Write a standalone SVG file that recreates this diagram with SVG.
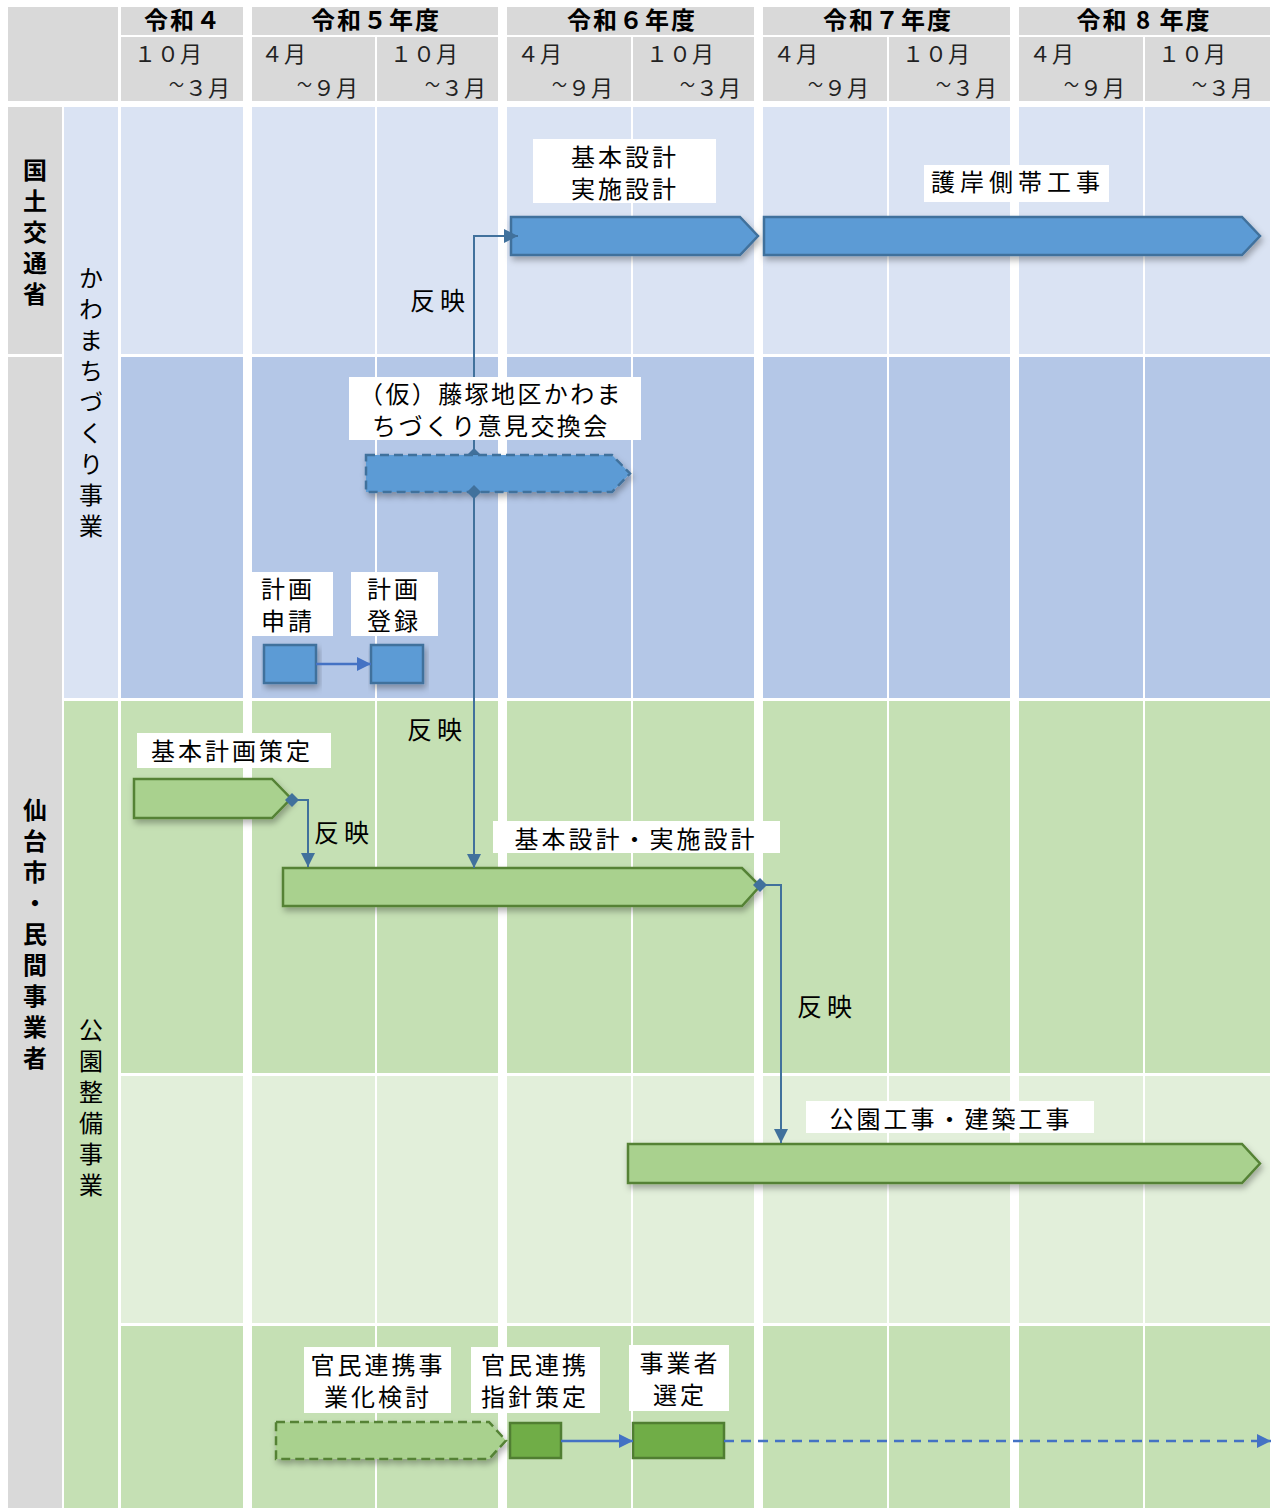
<svg xmlns="http://www.w3.org/2000/svg" width="1272" height="1508" viewBox="0 0 1272 1508">
<defs>
<style>
.t{font-family:"Noto Sans CJK JP","Noto Sans CJK SC",sans-serif;font-size:24px;letter-spacing:3px;fill:#000}
.v{font-family:"Noto Sans CJK JP","Noto Sans CJK SC",sans-serif;font-size:24px;letter-spacing:7px;writing-mode:vertical-rl;fill:#000}
.hb{font-family:"Noto Sans CJK JP","Noto Sans CJK SC",sans-serif;font-size:24px;font-weight:bold;letter-spacing:2px;fill:#000}
.vb{font-family:"Noto Sans CJK JP","Noto Sans CJK SC",sans-serif;font-size:24px;font-weight:bold;letter-spacing:7px;writing-mode:vertical-rl;fill:#000}
.m{font-family:"Noto Sans CJK JP","Noto Sans CJK SC",sans-serif;font-size:22px;letter-spacing:1px;fill:#222}
.r{font-family:"Noto Sans CJK JP","Noto Sans CJK SC",sans-serif;font-size:25px;letter-spacing:5px;fill:#000}
.lab{fill:#fff}
.bb{fill:#5B9BD5;stroke:#41719C;stroke-width:2.5}
.gb{fill:#A9D18E;stroke:#548235;stroke-width:2.5}
.dg{fill:#70AD47;stroke:#507E32;stroke-width:2.5}
.dash{stroke-dasharray:9 5}
.cn{fill:none;stroke:#41719C;stroke-width:2}
.cb{fill:none;stroke:#4472C4;stroke-width:2.5}
</style>
<marker id="ah" markerUnits="userSpaceOnUse" markerWidth="16" markerHeight="16" refX="14" refY="7" orient="auto"><path d="M0,0 L14,7 L0,14 Z" fill="#41719C"/></marker>
<marker id="ah2" markerUnits="userSpaceOnUse" markerWidth="16" markerHeight="16" refX="14" refY="7" orient="auto"><path d="M0,0 L14,7 L0,14 Z" fill="#4472C4"/></marker>
<marker id="dm" markerUnits="userSpaceOnUse" markerWidth="14" markerHeight="14" refX="7" refY="7" orient="auto"><path d="M0,7 L7,0 L14,7 L7,14 Z" fill="#41719C"/></marker>
<filter id="sh" x="-5%" y="-30%" width="115%" height="180%"><feDropShadow dx="2" dy="4" stdDeviation="3" flood-color="#000" flood-opacity="0.3"/></filter>
</defs>
<rect width="1272" height="1508" fill="#fff"/>
<g id="grid">
<rect x="8" y="7" width="110" height="94" fill="#D9D9D9"/>
<rect x="121" y="7" width="122" height="28" fill="#D9D9D9"/>
<rect x="252" y="7" width="246" height="28" fill="#D9D9D9"/>
<rect x="507" y="7" width="247" height="28" fill="#D9D9D9"/>
<rect x="763" y="7" width="247" height="28" fill="#D9D9D9"/>
<rect x="1019" y="7" width="251" height="28" fill="#D9D9D9"/>
<rect x="121" y="37" width="1149" height="64" fill="#D9D9D9"/>
<rect x="8" y="107" width="54" height="247" fill="#D9D9D9"/>
<rect x="8" y="357" width="54" height="1151" fill="#D9D9D9"/>
<rect x="64" y="107" width="54" height="591" fill="#DAE3F3"/>
<rect x="64" y="701" width="54" height="807" fill="#C5E0B4"/>
<rect x="121" y="107" width="1149" height="247" fill="#DAE3F3"/>
<rect x="121" y="357" width="1149" height="341" fill="#B4C7E7"/>
<rect x="121" y="701" width="1149" height="372" fill="#C5E0B4"/>
<rect x="121" y="1076" width="1149" height="247" fill="#E2EFDA"/>
<rect x="121" y="1326" width="1149" height="182" fill="#C5E0B4"/>
<g fill="#fff">
<rect x="243" y="37" width="9" height="1471"/>
<rect x="498" y="37" width="9" height="1471"/>
<rect x="754" y="37" width="9" height="1471"/>
<rect x="1010" y="37" width="9" height="1471"/>
<rect x="375" y="37" width="2" height="1471"/>
<rect x="631" y="37" width="2" height="1471"/>
<rect x="887" y="37" width="2" height="1471"/>
<rect x="1143" y="37" width="2" height="1471"/>
</g>
</g>
<g id="header">
<text class="hb" x="183" y="29" text-anchor="middle">令和４</text>
<text class="hb" x="376" y="29" text-anchor="middle">令和５年度</text>
<text class="hb" x="632" y="29" text-anchor="middle">令和６年度</text>
<text class="hb" x="888" y="29" text-anchor="middle">令和７年度</text>
<text class="hb" x="1144" y="29" text-anchor="middle">令和 8 年度</text>
<text class="m" x="134" y="62">１０月</text>
<text class="m" x="231" y="96" text-anchor="end"><tspan font-size="15" dy="-6">～</tspan><tspan dy="6">３月</tspan></text>
<text class="m" x="261" y="62">４月</text>
<text class="m" x="359" y="96" text-anchor="end"><tspan font-size="15" dy="-6">～</tspan><tspan dy="6">９月</tspan></text>
<text class="m" x="390" y="62">１０月</text>
<text class="m" x="487" y="96" text-anchor="end"><tspan font-size="15" dy="-6">～</tspan><tspan dy="6">３月</tspan></text>
<text class="m" x="517" y="62">４月</text>
<text class="m" x="614" y="96" text-anchor="end"><tspan font-size="15" dy="-6">～</tspan><tspan dy="6">９月</tspan></text>
<text class="m" x="646" y="62">１０月</text>
<text class="m" x="742" y="96" text-anchor="end"><tspan font-size="15" dy="-6">～</tspan><tspan dy="6">３月</tspan></text>
<text class="m" x="773" y="62">４月</text>
<text class="m" x="870" y="96" text-anchor="end"><tspan font-size="15" dy="-6">～</tspan><tspan dy="6">９月</tspan></text>
<text class="m" x="902" y="62">１０月</text>
<text class="m" x="998" y="96" text-anchor="end"><tspan font-size="15" dy="-6">～</tspan><tspan dy="6">３月</tspan></text>
<text class="m" x="1029" y="62">４月</text>
<text class="m" x="1126" y="96" text-anchor="end"><tspan font-size="15" dy="-6">～</tspan><tspan dy="6">９月</tspan></text>
<text class="m" x="1158" y="62">１０月</text>
<text class="m" x="1254" y="96" text-anchor="end"><tspan font-size="15" dy="-6">～</tspan><tspan dy="6">３月</tspan></text>
</g>
<g id="row-labels">
<text class="vb" x="35" y="158">国土交通省</text>
<text class="vb" x="35" y="798">仙台市・民間事業者</text>
<text class="v" x="91" y="266">かわまちづくり事業</text>
<text class="v" x="91" y="1018">公園整備事業</text>
</g>
<g id="kaigan-sekkei-bar">
<path class="bb" filter="url(#sh)" d="M511,217 H740 L758,236 L740,255 H511 Z"/>
</g>
<g id="gogan-kouji-bar">
<path class="bb" filter="url(#sh)" d="M764,217 H1242 L1260,236 L1242,255 H764 Z"/>
</g>
<g id="connector-hanei-1">
<path class="cn" d="M474,455 V236 H518" marker-start="url(#dm)" marker-end="url(#ah)"/>
<text class="r" x="410" y="310">反映</text>
</g>
<g id="ikenkoukankai-bar">
<path class="bb dash" filter="url(#sh)" d="M366,455 H612 L630,473.5 L612,492 H366 Z"/>
</g>
<g id="keikaku-shinsei">
<rect class="bb" filter="url(#sh)" x="264" y="645" width="52" height="38"/>
</g>
<g id="keikaku-touroku">
<rect class="bb" filter="url(#sh)" x="371" y="645" width="52" height="38"/>
</g>
<g id="kihonkeikaku-bar">
<path class="gb" filter="url(#sh)" d="M134,779 H272 L291,798.5 L272,818 H134 Z"/>
</g>
<g id="kouen-sekkei-bar">
<path class="gb" filter="url(#sh)" d="M283,868 H742 L760,886 L742,906 H283 Z"/>
</g>
<g id="kouen-kouji-bar">
<path class="gb" filter="url(#sh)" d="M628,1144 H1242 L1260,1163.5 L1242,1183 H628 Z"/>
</g>
<g id="kanmin-kentou-bar">
<path class="gb dash" filter="url(#sh)" d="M276,1422 H489 L506,1440.5 L489,1459 H276 Z"/>
</g>
<g id="kanmin-shishin-box">
<rect class="dg" x="510" y="1423" width="51" height="35"/>
</g>
<g id="jigyousha-sentei-box">
<rect class="dg" x="633" y="1423" width="91" height="35"/>
</g>
<g id="connectors">
<path class="cn" d="M474,492 V868" marker-start="url(#dm)" marker-end="url(#ah)"/>
<path class="cn" d="M292,800 H308 V867" marker-start="url(#dm)" marker-end="url(#ah)"/>
<path class="cn" d="M760,885 H781 V1143" marker-start="url(#dm)" marker-end="url(#ah)"/>
<path class="cb" d="M316,664 H371" marker-end="url(#ah2)"/>
<path class="cb" d="M561,1441 H633" marker-end="url(#ah2)"/>
<path class="cb" d="M724,1441 H1271" stroke-dasharray="10 7" marker-end="url(#ah2)"/>
<text class="r" x="407" y="739">反映</text>
<text class="r" x="314" y="842">反映</text>
<text class="r" x="797" y="1016">反映</text>
</g>
<g id="label-kaigan-sekkei">
<rect class="lab" x="533" y="139" width="183" height="64"/>
<text class="t" x="625" y="166" text-anchor="middle">基本設計</text>
<text class="t" x="625" y="198" text-anchor="middle">実施設計</text>
</g>
<g id="label-gogan-kouji">
<rect class="lab" x="924" y="165" width="185" height="37"/>
<text class="t" x="1018" y="191" text-anchor="middle" style="letter-spacing:5px">護岸側帯工事</text>
</g>
<g id="label-ikenkoukankai">
<rect class="lab" x="349" y="377" width="292" height="63"/>
<text class="t" x="359" y="403" style="letter-spacing:2.4px">（仮）藤塚地区かわま</text>
<text class="t" x="372" y="435" style="letter-spacing:2.4px">ちづくり意見交換会</text>
</g>
<g id="label-keikaku-shinsei">
<rect class="lab" x="252" y="572" width="81" height="64"/>
<text class="t" x="261" y="598">計画</text>
<text class="t" x="261" y="630">申請</text>
</g>
<g id="label-keikaku-touroku">
<rect class="lab" x="351" y="572" width="87" height="64"/>
<text class="t" x="367" y="598">計画</text>
<text class="t" x="367" y="630">登録</text>
</g>
<g id="label-kihonkeikaku">
<rect class="lab" x="137" y="733" width="194" height="35"/>
<text class="t" x="151" y="760">基本計画策定</text>
</g>
<g id="label-kouen-sekkei">
<rect class="lab" x="493" y="821" width="287" height="32"/>
<text class="t" x="636" y="848" text-anchor="middle">基本設計・実施設計</text>
</g>
<g id="label-kouen-kouji">
<rect class="lab" x="806" y="1101" width="288" height="32"/>
<text class="t" x="951" y="1128" text-anchor="middle">公園工事・建築工事</text>
</g>
<g id="label-kanmin-kentou">
<rect class="lab" x="304" y="1347" width="147" height="66"/>
<text class="t" x="378" y="1374" text-anchor="middle">官民連携事</text>
<text class="t" x="378" y="1406" text-anchor="middle">業化検討</text>
</g>
<g id="label-kanmin-shishin">
<rect class="lab" x="471" y="1347" width="129" height="66"/>
<text class="t" x="535" y="1374" text-anchor="middle">官民連携</text>
<text class="t" x="535" y="1406" text-anchor="middle">指針策定</text>
</g>
<g id="label-jigyousha-sentei">
<rect class="lab" x="629" y="1345" width="100" height="66"/>
<text class="t" x="680" y="1372" text-anchor="middle">事業者</text>
<text class="t" x="680" y="1404" text-anchor="middle">選定</text>
</g>
</svg>
